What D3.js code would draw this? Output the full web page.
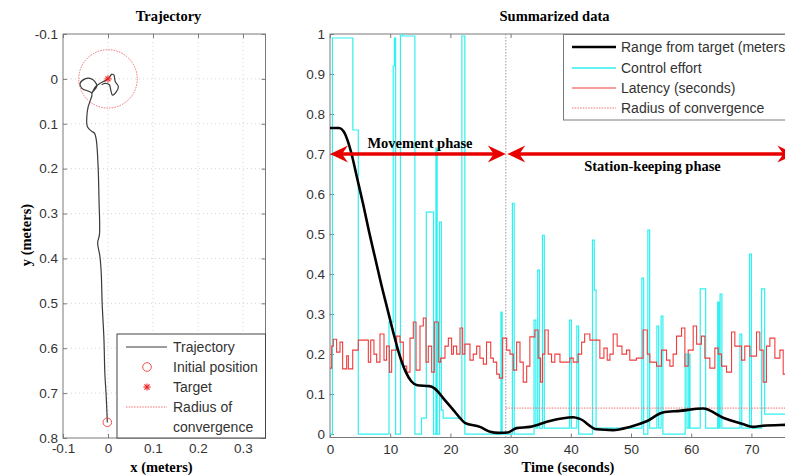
<!DOCTYPE html>
<html><head><meta charset="utf-8">
<script src="https://cdn.jsdelivr.net/npm/d3@7"></script>
<style>body{margin:0;background:#fff;overflow:hidden} svg{display:block}</style>
</head><body><svg width="785" height="475"></svg>
<script>
// ---------------- DATA ----------------
// Left panel: trajectory (meters)
const trajX = [-0.0015,-0.004,-0.007,-0.009,-0.013,-0.015,-0.018,-0.023,-0.019,-0.020,-0.022,-0.026,-0.030,-0.036,-0.046,-0.047,-0.044,-0.040,-0.036,-0.058,-0.062,-0.051,-0.040,-0.029,-0.025,-0.033,-0.036,-0.027,-0.018,-0.010,-0.003,0.004,0.008,0.013,0.016,0.023,0.019,0.010,0.006,0.003,-0.007,-0.014];
const trajY = [0.765,0.707,0.655,0.580,0.500,0.433,0.395,0.365,0.347,0.270,0.195,0.136,0.121,0.117,0.106,0.084,0.062,0.050,0.032,0.021,0.010,0.000,-0.001,0.006,0.017,0.028,0.032,0.017,0.010,0.006,0.002,-0.005,-0.010,-0.009,0.006,0.017,0.028,0.036,0.024,0.013,0.010,0.013];
const initialPos = [-0.0015, 0.765];
const targetPos = [0.0, 0.0];
const convRadius = 0.065;
const leftXTicks = [-0.1, 0, 0.1, 0.2, 0.3];
const leftYTicks = [-0.1, 0, 0.1, 0.2, 0.3, 0.4, 0.5, 0.6, 0.7, 0.8];
const leftLegend = ["Trajectory", "Initial position", "Target", "Radius of", "convergence"];

// Right panel: summarized data vs time (seconds)
const rangeT = [0,1.5,2.5,3.5,4.5,5.5,6.5,7.5,8.5,9.5,10.5,11.5,12.5,13.5,14.5,16.5,17.3,18.0,18.8,20.5,21.5,22.4,24.9,26.6,28.0,29.5,31.0,33.2,36.5,40.4,41.5,44.3,47.0,49.8,52.6,55.3,58.1,62.0,65.3,68.6,70.3,71.9,75.6,80];
const rangeV = [0.765,0.765,0.750,0.705,0.640,0.575,0.505,0.440,0.375,0.315,0.255,0.200,0.158,0.132,0.122,0.120,0.115,0.105,0.090,0.060,0.042,0.028,0.018,0.006,0.003,0.004,0.015,0.018,0.033,0.042,0.038,0.012,0.010,0.018,0.032,0.054,0.058,0.064,0.041,0.025,0.018,0.021,0.023,0.024];

const ctrlT = [0,0.4,3.8,4.7,9.8,10.5,10.7,10.9,11.7,12.0,14.1,15.2,16.0,17.2,17.6,17.8,18.2,18.5,18.8,21.9,22.4,28.4,28.6,30.3,30.6,33.9,34.2,34.5,34.8,35.3,35.6,39.8,40.1,41.0,41.3,43.6,43.9,44.2,51.8,52.1,52.8,53.1,54.3,54.6,55.0,55.3,59.0,59.3,59.6,59.8,61.5,62.4,64.4,64.6,64.8,65.1,68.1,68.4,69.7,70.0,71.7,72.2,80];
const ctrlV = [0,0.99,0.76,0,0.28,0.92,0.99,0,1.0,0.995,0,0.04,0.555,0,0.715,0,0.53,0.06,0.04,0.995,0,0.305,0,0.577,0,0.285,0.015,0.41,0.015,0.497,0.015,0.285,0.015,0.27,0,0.485,0.36,0.015,0.39,0,0.51,0.015,0.27,0.015,0.295,0,0.2,0.015,0.2,0.015,0.363,0.015,0.33,0.015,0.35,0.015,0.25,0.015,0.45,0.015,0.363,0.05,0.05];

const latT = [0,0.28,0.55,1.1,1.66,2.1,2.77,3.05,3.77,4.7,6.37,6.76,7.3,7.75,8.3,8.97,9.4,9.86,10.24,11.07,11.63,12.18,12.74,13.29,13.84,14.29,14.95,15.5,15.95,16.33,16.89,17.33,18.0,18.38,19.1,19.66,20.2,20.5,21.04,21.6,22.04,22.4,23.25,23.8,24.36,24.9,25.47,26.0,26.7,27.13,27.69,28.13,28.68,29.35,29.9,30.45,31.0,31.56,32.1,32.67,33.2,34.03,34.58,34.97,35.3,35.7,36.25,36.8,37.35,38.2,39.84,40.4,41.2,41.8,42.3,43.17,44.83,45.5,46.05,46.5,47.04,47.7,48.5,49.26,49.8,50.9,52.0,52.7,53.13,54.24,55.07,55.9,56.46,57.0,57.56,58.4,58.95,59.5,60.33,60.9,61.7,62.27,63.1,63.93,64.48,65.04,65.87,66.7,67.25,68.36,68.9,69.75,70.85,71.4,71.96,72.5,73.07,73.9,74.73,75.28,80];
const latV = [0.165,0.22,0.237,0.205,0.23,0.163,0.196,0.163,0.21,0.235,0.18,0.235,0.2,0.18,0.25,0.185,0.22,0.155,0.21,0.245,0.23,0.17,0.155,0.24,0.28,0.16,0.27,0.29,0.18,0.22,0.155,0.28,0.18,0.19,0.22,0.24,0.2,0.22,0.2,0.265,0.2,0.225,0.185,0.2,0.22,0.19,0.175,0.23,0.19,0.18,0.15,0.14,0.24,0.21,0.2,0.16,0.23,0.18,0.13,0.17,0.243,0.26,0.19,0.13,0.2,0.26,0.2,0.18,0.2,0.18,0.19,0.18,0.2,0.23,0.25,0.235,0.19,0.215,0.185,0.2,0.25,0.22,0.2,0.21,0.185,0.19,0.26,0.2,0.18,0.17,0.21,0.185,0.17,0.2,0.245,0.265,0.17,0.21,0.27,0.225,0.245,0.19,0.165,0.215,0.2,0.17,0.155,0.255,0.22,0.185,0.22,0.195,0.255,0.21,0.13,0.22,0.24,0.19,0.21,0.15,0.15];

const phaseSplit = 29.2;
const rightXTicks = [0, 10, 20, 30, 40, 50, 60, 70];
const rightYTicks = [0, 0.1, 0.2, 0.3, 0.4, 0.5, 0.6, 0.7, 0.8, 0.9, 1];
const rightLegend = ["Range from target (meters)", "Control effort", "Latency (seconds)", "Radius of convergence"];
const phaseLabels = ["Movement phase", "Station-keeping phase"];

// ---------------- DRAW ----------------
const svg = d3.select("svg");
const SANS = '"Liberation Sans", Arial, sans-serif';
const SERIF = '"Liberation Serif", "Times New Roman", serif';
const fmt = d => String(+d.toFixed(2));
const AX = "#7a7a7a";

function styleAxis(g) {
  g.select(".domain").remove();
  g.selectAll(".tick line").attr("stroke", AX);
  g.selectAll(".tick text").attr("fill", "#333").style("font-size", "13.5px").style("font-family", SANS);
}

// ===== Left panel =====
const xL = d3.scaleLinear().domain([-0.1, 0.35]).range([63, 265.5]);
const yL = d3.scaleLinear().domain([-0.1, 0.8]).range([34, 438]);
const gL = svg.append("g");

gL.selectAll(".gx").data(leftXTicks.slice(1)).join("line")
  .attr("x1", d => xL(d)).attr("x2", d => xL(d)).attr("y1", 34).attr("y2", 438)
  .attr("stroke", "#d4d4d4").attr("stroke-dasharray", "1,3");
gL.selectAll(".gy").data(leftYTicks.slice(1, -1)).join("line")
  .attr("y1", d => yL(d)).attr("y2", d => yL(d)).attr("x1", 63).attr("x2", 265.5)
  .attr("stroke", "#d4d4d4").attr("stroke-dasharray", "1,3");

gL.append("g").attr("transform", "translate(0,438)")
  .call(d3.axisBottom(xL).tickValues(leftXTicks).tickSize(-4).tickPadding(5).tickFormat(fmt)).call(styleAxis);
gL.append("g").attr("transform", "translate(0,34)")
  .call(d3.axisTop(xL).tickValues(leftXTicks).tickSize(-4).tickFormat("")).call(styleAxis);
gL.append("g").attr("transform", "translate(63,0)")
  .call(d3.axisLeft(yL).tickValues(leftYTicks).tickSize(-4).tickPadding(5).tickFormat(fmt)).call(styleAxis);
gL.append("g").attr("transform", "translate(265.5,0)")
  .call(d3.axisRight(yL).tickValues(leftYTicks).tickSize(-4).tickFormat("")).call(styleAxis);
gL.append("rect").attr("x", 63).attr("y", 34).attr("width", 265.5 - 63).attr("height", 438 - 34)
  .attr("fill", "none").attr("stroke", AX).attr("stroke-width", 1);

// convergence circle
gL.append("ellipse").attr("cx", xL(targetPos[0])).attr("cy", yL(targetPos[1]))
  .attr("rx", xL(convRadius) - xL(0)).attr("ry", yL(convRadius) - yL(0))
  .attr("fill", "none").attr("stroke", "#f07070").attr("stroke-width", 1).attr("stroke-dasharray", "1.5,1.2");

const trajPts = trajX.map((x, i) => [x, trajY[i]]);
gL.append("path").datum(trajPts)
  .attr("d", d3.line().x(d => xL(d[0])).y(d => yL(d[1])).curve(d3.curveCatmullRom.alpha(0.5)))
  .attr("fill", "none").attr("stroke", "#3a3a3a").attr("stroke-width", 1.2);

function asterisk(g, cx, cy, r, color) {
  const a = [[-r,0,r,0],[0,-r,0,r],[-r*0.7,-r*0.7,r*0.7,r*0.7],[-r*0.7,r*0.7,r*0.7,-r*0.7]];
  a.forEach(s => g.append("line").attr("x1", cx + s[0]).attr("y1", cy + s[1]).attr("x2", cx + s[2]).attr("y2", cy + s[3])
    .attr("stroke", color).attr("stroke-width", 1.1));
}
gL.append("circle").attr("cx", xL(initialPos[0])).attr("cy", yL(initialPos[1])).attr("r", 4.3)
  .attr("fill", "none").attr("stroke", "#f05050").attr("stroke-width", 1);
asterisk(gL, xL(targetPos[0]), yL(targetPos[1]), 3.6, "#ee2020");

// left legend
const lg = gL.append("g");
lg.append("rect").attr("x", 117).attr("y", 334).attr("width", 265.5 - 117).attr("height", 438 - 334)
  .attr("fill", "#fff").attr("stroke", "#444").attr("stroke-width", 1);
const lgY = [347, 367, 387, 407, 427];
lg.selectAll("text").data(leftLegend).join("text")
  .attr("x", 173).attr("y", (d, i) => lgY[i]).attr("dy", "0.36em")
  .style("font-family", SANS).style("font-size", "14px").attr("fill", "#333").text(d => d);
lg.append("line").attr("x1", 126).attr("x2", 167).attr("y1", lgY[0]).attr("y2", lgY[0]).attr("stroke", "#3a3a3a").attr("stroke-width", 1.2);
lg.append("circle").attr("cx", 147).attr("cy", lgY[1]).attr("r", 4.3).attr("fill", "none").attr("stroke", "#f05050");
asterisk(lg, 147, lgY[2], 3.6, "#ee2020");
lg.append("line").attr("x1", 126).attr("x2", 167).attr("y1", lgY[3]).attr("y2", lgY[3])
  .attr("stroke", "#f07070").attr("stroke-dasharray", "1.5,1.2");

// labels
svg.append("text").attr("x", 168.5).attr("y", 21).attr("text-anchor", "middle")
  .style("font-family", SERIF).style("font-weight", "bold").style("font-size", "14.5px").text("Trajectory");
svg.append("text").attr("x", 161.5).attr("y", 472).attr("text-anchor", "middle")
  .style("font-family", SERIF).style("font-weight", "bold").style("font-size", "14.5px").text("x (meters)");
svg.append("text").attr("transform", "translate(31,235) rotate(-90)").attr("text-anchor", "middle")
  .style("font-family", SERIF).style("font-weight", "bold").style("font-size", "14.5px").text("y (meters)");

// ===== Right panel =====
const xR = d3.scaleLinear().domain([0, 80]).range([330, 811.6]);
const yR = d3.scaleLinear().domain([-0.0085, 1]).range([437.5, 34]);
const gR = svg.append("g");
svg.append("clipPath").attr("id", "clipR").append("rect")
  .attr("x", 330).attr("y", 34).attr("width", 811.6 - 330).attr("height", 437.5 - 34);

gR.append("g").attr("transform", "translate(0,437.5)")
  .call(d3.axisBottom(xR).tickValues(rightXTicks).tickSize(-4).tickPadding(7).tickFormat(fmt)).call(styleAxis);
gR.append("g").attr("transform", "translate(0,34)")
  .call(d3.axisTop(xR).tickValues(rightXTicks).tickSize(-4).tickFormat("")).call(styleAxis);
gR.append("g").attr("transform", "translate(330,0)")
  .call(d3.axisLeft(yR).tickValues(rightYTicks).tickSize(-4).tickPadding(5).tickFormat(fmt)).call(styleAxis);
gR.append("rect").attr("x", 330).attr("y", 34).attr("width", 811.6 - 330).attr("height", 437.5 - 34)
  .attr("fill", "none").attr("stroke", AX).attr("stroke-width", 1);

const plot = gR.append("g").attr("clip-path", "url(#clipR)");
plot.append("line").attr("x1", xR(phaseSplit)).attr("x2", xR(phaseSplit)).attr("y1", 34).attr("y2", 437.5)
  .attr("stroke", "#9a9a9a").attr("stroke-width", 1).attr("stroke-dasharray", "1.5,1.5");

const stepLine = d3.line().x(d => xR(d[0])).y(d => yR(d[1])).curve(d3.curveStepAfter);
plot.append("path").datum(ctrlT.map((t, i) => [t, ctrlV[i]])).attr("d", stepLine)
  .attr("fill", "none").attr("stroke", "#30f0f0").attr("stroke-width", 1.2);
plot.append("path").datum(latT.map((t, i) => [t, latV[i]])).attr("d", stepLine)
  .attr("fill", "none").attr("stroke", "#f03c3c").attr("stroke-width", 1.1);
plot.append("line").attr("x1", xR(phaseSplit)).attr("x2", xR(80)).attr("y1", yR(convRadius)).attr("y2", yR(convRadius))
  .attr("stroke", "#f07070").attr("stroke-width", 1).attr("stroke-dasharray", "1.5,1.2");
plot.append("path").datum(rangeT.map((t, i) => [t, rangeV[i]]))
  .attr("d", d3.line().x(d => xR(d[0])).y(d => yR(d[1])).curve(d3.curveMonotoneX))
  .attr("fill", "none").attr("stroke", "#000").attr("stroke-width", 2.6);

// phase arrows
const arrowY = yR(0.7);
const AR = "#e80000";
function arrow(t0, t1) {
  const x0 = xR(t0), x1 = xR(t1);
  svg.append("line").attr("x1", x0 + 10).attr("x2", x1 - 10).attr("y1", arrowY).attr("y2", arrowY)
    .attr("stroke", AR).attr("stroke-width", 3.5);
  const head = (tip, dir) => svg.append("path")
    .attr("d", `M${tip},${arrowY} L${tip + dir * 18},${arrowY - 8.5} L${tip + dir * 12},${arrowY} L${tip + dir * 18},${arrowY + 8.5} Z`)
    .attr("fill", AR);
  head(x0, 1); head(x1, -1);
}
arrow(0, phaseSplit);
arrow(phaseSplit + 0.25, 77.3);
svg.append("text").attr("x", 420).attr("y", 148).attr("text-anchor", "middle")
  .style("font-family", SERIF).style("font-weight", "bold").style("font-size", "14.5px").text(phaseLabels[0]);
svg.append("text").attr("x", 652.5).attr("y", 171).attr("text-anchor", "middle")
  .style("font-family", SERIF).style("font-weight", "bold").style("font-size", "14.5px").text(phaseLabels[1]);

// right legend
const rg = svg.append("g");
rg.append("rect").attr("x", 563.5).attr("y", 34.5).attr("width", 260).attr("height", 120 - 34.5)
  .attr("fill", "#fff").attr("stroke", "#7a7a7a").attr("stroke-width", 1);
const rgY = [47, 68, 88, 108];
rg.selectAll("text").data(rightLegend).join("text")
  .attr("x", 621).attr("y", (d, i) => rgY[i]).attr("dy", "0.36em")
  .style("font-family", SANS).style("font-size", "14px").attr("fill", "#333").text(d => d);
const rgStyles = [["#000", 2.6, null], ["#30f0f0", 1.5, null], ["#f03c3c", 1.2, null], ["#f07070", 1, "1.5,1.2"]];
rgStyles.forEach((s, i) => rg.append("line").attr("x1", 572).attr("x2", 616).attr("y1", rgY[i]).attr("y2", rgY[i])
  .attr("stroke", s[0]).attr("stroke-width", s[1]).attr("stroke-dasharray", s[2]));

svg.append("text").attr("x", 554.5).attr("y", 21).attr("text-anchor", "middle")
  .style("font-family", SERIF).style("font-weight", "bold").style("font-size", "14.5px").text("Summarized data");
svg.append("text").attr("x", 568).attr("y", 472).attr("text-anchor", "middle")
  .style("font-family", SERIF).style("font-weight", "bold").style("font-size", "14.5px").text("Time (seconds)");
</script>
</body></html>
